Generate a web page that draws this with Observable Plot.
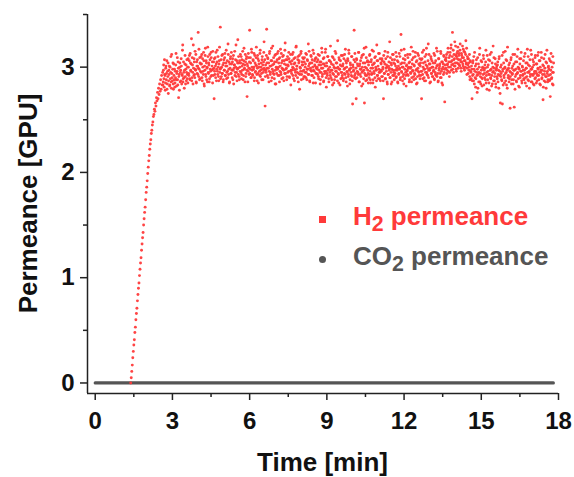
<!DOCTYPE html>
<html>
<head>
<meta charset="utf-8">
<script src="https://cdn.jsdelivr.net/npm/d3@7"></script>
<script src="https://cdn.jsdelivr.net/npm/@observablehq/plot@0.6"></script>
<style>
  html, body { margin: 0; padding: 0; background: #fff; }
  #wrap { position: relative; width: 574px; height: 477px; font-family: "Liberation Sans", Arial, sans-serif; }
  .lg-text { position: absolute; font-weight: bold; font-size: 26px; line-height: 26px; white-space: nowrap; }
  .lg-text sub { font-size: 0.82em; position: relative; top: 0.3em; vertical-align: baseline; line-height: 0; }
  .lg-mark { position: absolute; width: 7px; height: 7px; }
</style>
</head>
<body>
<div id="wrap"></div>
<script>
// ---- data ----
const riseStart = 1.38;     // min, first logged H2 point
const riseStep = 0.02;      // min
const plateauStart = 2.62;  // min
const plateauStep = 0.01;   // min (two interleaved read-outs, A and B)

const h2Rise = [
  0.00, 0.05, 0.11, 0.17, 0.24, 0.30, 0.36, 0.41, 0.48, 0.53, 0.60, 0.66, 0.71, 0.78, 0.84, 0.90,
  0.95, 1.02, 1.08, 1.14, 1.19, 1.26, 1.32, 1.38, 1.43, 1.50, 1.56, 1.62, 1.67, 1.74, 1.81, 1.86,
  1.92, 1.99, 2.05, 2.11, 2.16, 2.22, 2.27, 2.31, 2.37, 2.40, 2.45, 2.48, 2.53, 2.55, 2.60, 2.58,
  2.66, 2.63, 2.71, 2.68, 2.76, 2.70, 2.80, 2.74, 2.84, 2.77, 2.88, 2.79, 2.92, 2.83
];

const h2PlateauA = [
  2.95, 2.86, 3.02, 2.81, 2.93, 2.78, 2.99, 2.88, 3.06, 2.84, 2.91, 2.75, 2.97, 3.01, 2.83, 2.89, 3.10, 2.80, 2.94, 2.87, 3.04, 2.79, 2.92, 2.98, 2.85,
  2.90, 3.13, 2.82, 2.96, 2.88, 3.05, 2.71, 2.93, 3.00, 2.86, 2.97, 3.08, 2.84, 2.92, 3.21, 2.89, 2.95, 2.80, 3.03, 2.91, 2.98, 2.87, 3.07, 2.93, 2.85,
  3.00, 2.92, 3.11, 2.88, 3.04, 2.96, 3.27, 2.90, 3.02, 2.84, 2.99, 3.08, 2.93, 3.15, 2.97, 2.86, 3.05, 2.94, 3.01, 3.33, 2.91, 2.98, 3.09, 2.89, 3.03,
  2.95, 3.12, 2.87, 3.00, 2.93, 3.06, 2.82, 2.97, 3.18, 2.91, 3.04, 2.99, 2.86, 3.10, 2.94, 3.02, 2.89, 3.07, 2.96, 3.14, 2.92, 3.01, 2.85, 2.98, 3.05,
  2.70, 2.96, 3.09, 2.90, 3.03, 2.98, 3.16, 2.93, 3.00, 2.87, 3.06, 2.95, 3.38, 2.99, 2.91, 3.11, 2.94, 3.02, 2.88, 3.07, 2.97, 3.13, 2.92, 3.04, 2.89,
  3.01, 2.96, 3.22, 2.93, 3.05, 2.86, 2.99, 3.10, 2.94, 3.03, 2.90, 3.08, 2.97, 2.84, 3.02, 3.15, 2.95, 3.00, 2.91, 3.06, 2.98, 3.26, 2.93, 3.04, 2.88,
  3.00, 3.12, 2.95, 2.89, 3.07, 2.97, 3.03, 2.92, 3.18, 2.99, 2.86, 3.05, 2.94, 3.10, 2.72, 3.01, 2.96, 3.09, 2.93, 3.35, 2.98, 3.04, 2.90, 3.14, 2.97,
  2.92, 3.06, 3.00, 2.87, 3.11, 2.95, 3.02, 3.19, 2.93, 2.99, 3.08, 2.85, 3.03, 2.96, 3.13, 2.91, 3.00, 2.94, 3.07, 2.98, 2.88, 3.05, 3.24, 2.97, 2.63,
  3.02, 2.95, 3.36, 2.99, 3.09, 2.90, 3.04, 2.96, 3.15, 2.93, 3.01, 2.87, 3.06, 2.98, 3.20, 2.94, 3.03, 2.89, 3.11, 2.97, 2.84, 3.05, 2.99, 3.13, 2.92,
  3.00, 3.08, 2.86, 2.96, 3.17, 2.93, 3.04, 2.99, 3.10, 2.90, 2.97, 3.06, 2.94, 3.23, 2.98, 3.02, 2.88, 3.07, 2.95, 3.01, 3.14, 2.91, 3.05, 2.96, 2.83,
  3.03, 2.97, 3.12, 2.92, 2.99, 3.08, 2.87, 3.04, 2.95, 3.19, 2.98, 3.01, 2.90, 3.10, 2.94, 3.06, 2.79, 3.00, 2.96, 3.15, 2.93, 3.02, 3.09, 2.89, 2.97,
  3.05, 2.91, 3.00, 3.13, 2.95, 2.88, 3.07, 2.98, 3.22, 2.93, 3.03, 2.86, 2.99, 3.11, 2.96, 3.04, 2.92, 3.16, 2.97, 2.90, 3.06, 3.01, 2.85, 3.09, 2.94,
  3.00, 2.93, 3.12, 2.89, 2.97, 3.05, 2.84, 3.02, 2.95, 3.18, 2.91, 2.99, 3.08, 2.87, 3.03, 2.94, 3.14, 2.96, 2.81, 3.01, 2.92, 3.10, 2.98, 2.86, 3.06,
  2.95, 3.20, 2.90, 3.03, 2.97, 2.83, 3.09, 2.93, 3.00, 2.88, 3.15, 2.96, 3.04, 2.91, 2.99, 3.25, 2.94, 2.85, 3.07, 2.98, 3.02, 2.89, 3.11, 2.95, 2.92,
  3.01, 2.87, 3.08, 2.94, 2.99, 3.17, 2.90, 3.04, 2.96, 2.82, 3.06, 2.93, 3.13, 2.98, 2.88, 3.02, 2.95, 3.10, 2.91, 2.65, 3.00, 2.97, 3.35, 2.92, 3.05,
  2.89, 2.70, 3.07, 2.96, 3.01, 2.93, 3.14, 2.86, 3.03, 2.98, 2.91, 3.09, 2.95, 3.00, 2.84, 3.12, 2.97, 2.66, 3.04, 2.92, 3.19, 2.99, 2.88, 3.06, 2.94,
  3.02, 2.90, 3.11, 2.96, 2.85, 3.05, 2.93, 3.16, 2.99, 2.88, 3.03, 2.94, 3.09, 2.81, 3.00, 2.97, 3.21, 2.92, 3.06, 2.89, 2.98, 3.13, 2.95, 2.87, 3.04,
  2.96, 3.08, 2.91, 3.00, 2.70, 3.05, 2.94, 3.15, 2.89, 2.99, 3.02, 2.86, 3.10, 2.93, 3.01, 2.97, 3.24, 2.90, 3.04, 2.84, 2.98, 3.07, 2.92, 3.12, 2.95,
  2.88, 3.03, 2.97, 3.14, 2.91, 2.99, 3.06, 2.85, 3.01, 2.94, 2.98, 3.10, 2.90, 3.31, 2.96, 3.04, 2.87, 3.00, 2.93, 3.17, 2.89, 3.07, 2.95, 2.82, 3.02,
  2.97, 3.12, 2.92, 3.00, 2.86, 3.05, 2.99, 2.94, 3.19, 2.90, 3.03, 2.96, 3.09, 2.88, 3.01, 2.93, 3.14, 2.97, 2.84, 3.06, 2.91, 2.99, 3.11, 2.95, 3.02,
  2.89, 3.04, 2.96, 2.70, 3.08, 2.93, 3.00, 3.16, 2.90, 2.98, 3.05, 2.87, 3.12, 2.95, 3.01, 2.92, 3.22, 2.97, 3.03, 2.85, 2.99, 3.10, 2.94, 3.06, 2.91,
  3.00, 2.96, 3.13, 2.88, 3.04, 2.93, 2.99, 3.18, 2.91, 3.02, 2.86, 3.08, 2.97, 3.01, 2.94, 3.15, 2.90, 3.05, 2.98, 2.83, 3.03, 3.11, 2.95, 2.67, 3.07,
  2.99, 3.09, 2.94, 3.02, 3.14, 2.96, 3.05, 2.91, 3.11, 3.00, 3.18, 2.97, 3.06, 3.33, 3.03, 2.95, 3.12, 3.08, 3.01, 3.20, 2.98, 3.10, 3.04, 3.15, 2.99,
  3.07, 3.13, 3.01, 3.22, 3.05, 2.96, 3.11, 3.09, 3.03, 3.17, 2.99, 3.06, 3.14, 3.00, 3.25, 3.04, 2.93, 3.10, 3.02, 3.08, 2.97, 3.12, 2.88, 3.05, 2.95,
  3.01, 2.70, 2.92, 3.06, 2.87, 2.98, 3.14, 2.90, 2.81, 3.03, 2.95, 2.76, 3.09, 2.93, 2.86, 3.00, 3.18, 2.91, 2.84, 2.97, 3.05, 2.89, 2.99, 3.11, 2.83,
  2.94, 3.02, 2.88, 3.16, 2.92, 2.79, 3.00, 2.96, 3.07, 2.85, 2.93, 3.12, 2.90, 2.98, 2.82, 3.04, 2.95, 3.20, 2.87, 2.99, 2.91, 3.08, 2.84, 2.97, 3.01,
  2.89, 3.05, 2.93, 2.80, 3.10, 2.96, 2.66, 2.91, 3.02, 2.87, 2.65, 2.98, 3.14, 2.92, 2.85, 3.00, 2.94, 3.07, 2.83, 2.97, 3.19, 2.90, 2.99, 2.86, 3.04,
  2.61, 2.95, 3.09, 2.88, 2.93, 3.01, 2.84, 2.97, 2.62, 3.12, 2.91, 2.98, 2.87, 3.05, 2.94, 3.17, 2.89, 2.99, 2.81, 3.03, 2.92, 3.08, 2.96, 2.85, 3.00,
  2.93, 3.06, 2.88, 2.97, 3.13, 2.90, 2.99, 2.82, 3.04, 2.95, 3.10, 2.87, 2.96, 3.01, 2.91, 3.16, 2.86, 2.98, 2.93, 3.07, 2.84, 3.02, 2.94, 2.89, 3.11,
  2.96, 2.85, 3.03, 2.92, 2.99, 3.14, 2.88, 2.95, 3.06, 2.83, 2.97, 3.09, 2.90, 2.93, 2.69, 3.01, 2.87, 2.96, 3.12, 2.91, 2.80, 3.04, 2.94, 2.86, 3.00,
  2.92, 3.08, 2.88, 2.72, 2.97, 3.05, 2.90, 2.84, 3.10, 2.95
];

const h2PlateauB = [
  2.83, 2.97, 2.89, 3.07, 2.92, 2.85, 3.01, 2.94, 2.79, 2.96, 3.04, 2.87, 2.93, 2.82, 3.00, 2.95, 2.86, 3.12, 2.90, 2.98, 2.84, 3.03, 2.88, 2.81, 2.96,
  3.02, 2.88, 2.94, 3.09, 2.83, 2.99, 2.91, 2.78, 3.04, 2.95, 2.87, 3.01, 2.93, 3.16, 2.86, 3.05, 2.90, 2.97, 3.11, 2.84, 3.02, 2.95, 2.89, 3.00, 3.08,
  2.94, 3.06, 2.89, 3.13, 2.97, 3.03, 2.87, 3.09, 2.95, 3.21, 2.92, 3.05, 2.90, 2.98, 3.12, 2.85, 3.01, 3.07, 2.93, 2.99, 3.17, 2.88, 3.04, 2.96, 3.10,
  3.03, 2.90, 3.08, 2.96, 3.14, 2.84, 3.01, 3.11, 2.93, 3.06, 2.88, 3.00, 3.19, 2.95, 3.04, 2.86, 3.12, 2.98, 2.91, 3.09, 2.97, 3.05, 3.15, 2.92, 2.99,
  3.08, 2.93, 3.01, 3.14, 2.87, 3.05, 2.96, 3.10, 2.91, 3.03, 3.19, 2.98, 2.89, 3.07, 3.00, 2.94, 3.12, 2.86, 3.04, 2.97, 3.09, 2.92, 3.01, 3.16, 2.95,
  3.06, 2.90, 3.12, 2.98, 2.85, 3.03, 3.08, 2.94, 3.14, 2.97, 3.05, 2.88, 3.11, 2.99, 3.02, 2.92, 3.07, 3.21, 2.95, 2.87, 3.04, 2.99, 3.10, 2.91, 3.06,
  2.96, 3.04, 3.10, 2.93, 3.01, 3.15, 2.88, 3.06, 2.98, 3.02, 3.12, 2.91, 3.08, 2.97, 3.03, 2.86, 3.13, 2.99, 3.05, 2.94, 3.09, 2.90, 3.17, 3.00, 2.93,
  3.07, 2.98, 3.13, 2.90, 3.04, 2.96, 3.09, 3.01, 2.87, 3.11, 2.94, 3.06, 3.00, 2.92, 3.16, 2.97, 3.04, 2.88, 3.10, 3.02, 2.95, 3.14, 2.99, 3.07, 2.91,
  2.97, 3.11, 3.04, 2.92, 3.08, 2.99, 2.86, 3.13, 3.01, 2.95, 3.06, 3.18, 2.90, 3.02, 2.96, 3.09, 2.93, 3.05, 2.84, 3.12, 3.00, 2.94, 3.07, 2.98, 3.15,
  3.04, 2.92, 3.09, 3.01, 2.95, 3.13, 2.89, 3.06, 2.98, 3.11, 2.87, 3.03, 3.16, 2.94, 3.07, 2.99, 2.91, 3.10, 3.02, 2.96, 3.08, 2.90, 3.05, 3.12, 2.97,
  2.94, 3.06, 3.00, 3.14, 2.89, 3.03, 2.97, 3.09, 2.92, 3.20, 3.01, 2.95, 3.07, 2.86, 3.04, 3.11, 2.93, 2.99, 3.13, 2.88, 3.05, 2.96, 3.02, 3.08, 2.91,
  3.09, 2.95, 3.03, 2.90, 3.12, 2.98, 3.06, 2.93, 3.01, 3.15, 2.87, 3.04, 2.97, 3.10, 2.92, 3.07, 3.00, 2.85, 3.13, 2.96, 3.02, 3.08, 2.94, 2.99, 3.05,
  2.98, 3.07, 2.91, 3.02, 3.11, 2.95, 2.88, 3.05, 2.99, 3.14, 2.93, 3.03, 2.86, 3.09, 2.96, 3.01, 3.17, 2.90, 3.04, 2.94, 3.10, 2.97, 2.89, 3.06, 3.00,
  2.92, 3.05, 2.97, 2.88, 3.10, 2.94, 3.02, 2.85, 3.07, 2.99, 2.91, 3.13, 2.96, 3.04, 2.87, 3.00, 2.93, 3.09, 2.98, 2.83, 3.06, 2.95, 3.01, 2.90, 3.11,
  3.03, 2.89, 2.98, 3.12, 2.93, 3.06, 2.86, 3.00, 2.95, 3.08, 2.91, 3.16, 2.97, 2.84, 3.04, 2.99, 2.92, 3.10, 2.87, 3.02, 2.96, 3.07, 2.90, 3.13, 2.94,
  2.99, 3.08, 2.90, 3.03, 2.95, 3.14, 2.86, 3.01, 2.93, 3.06, 2.98, 2.82, 3.11, 2.96, 3.04, 2.89, 3.18, 2.94, 3.00, 2.87, 3.09, 2.92, 3.05, 2.97, 2.85,
  3.05, 2.93, 3.12, 2.88, 2.99, 3.07, 2.94, 3.02, 2.85, 3.15, 2.96, 3.04, 2.90, 3.10, 2.98, 2.87, 3.06, 2.92, 3.01, 3.13, 2.95, 2.89, 3.08, 2.97, 3.03,
  2.91, 3.06, 2.98, 2.87, 3.11, 2.94, 3.03, 2.89, 3.08, 2.96, 3.00, 2.84, 3.14, 2.93, 3.05, 2.99, 2.90, 3.09, 2.95, 3.02, 2.86, 3.12, 2.97, 3.04, 2.92,
  3.07, 2.94, 3.01, 2.90, 3.10, 2.97, 2.86, 3.05, 2.93, 3.13, 2.99, 2.88, 3.03, 3.16, 2.95, 3.00, 2.91, 3.08, 2.84, 3.04, 2.98, 3.11, 2.92, 3.01, 2.96,
  2.93, 3.09, 2.99, 3.04, 2.88, 3.12, 2.95, 3.00, 2.86, 3.07, 2.97, 3.15, 2.91, 3.02, 2.94, 3.10, 2.89, 3.05, 2.98, 2.85, 3.13, 2.96, 3.03, 2.92, 3.08,
  3.01, 2.92, 3.07, 2.96, 3.14, 2.89, 3.04, 2.98, 2.87, 3.10, 2.95, 3.02, 3.18, 2.93, 2.99, 3.06, 2.90, 3.12, 2.97, 3.03, 2.86, 3.08, 2.94, 3.00, 2.91,
  3.04, 2.97, 2.89, 3.11, 2.95, 3.06, 2.92, 3.01, 3.15, 2.94, 2.87, 3.08, 2.99, 3.03, 2.90, 3.13, 2.96, 2.85, 3.05, 3.00, 2.93, 3.10, 2.98, 3.02, 3.07,
  3.06, 3.12, 2.97, 3.03, 3.18, 3.00, 3.09, 2.95, 3.14, 3.05, 3.21, 3.02, 3.10, 2.98, 3.16, 3.07, 3.01, 3.24, 3.04, 3.11, 2.96, 3.13, 3.08, 3.19, 3.03,
  3.11, 3.02, 3.16, 3.07, 2.99, 3.13, 3.05, 3.20, 3.01, 3.09, 3.15, 2.97, 3.06, 3.12, 3.03, 3.18, 2.99, 3.08, 2.94, 3.04, 3.00, 2.91, 3.06, 2.96, 2.89,
  2.98, 2.87, 3.04, 2.93, 3.10, 2.84, 2.96, 3.01, 2.89, 3.07, 2.92, 2.98, 2.80, 3.03, 2.95, 3.12, 2.86, 2.94, 3.06, 2.90, 2.82, 3.00, 2.93, 3.08, 2.97,
  2.90, 2.99, 3.05, 2.85, 2.95, 3.11, 2.88, 3.02, 2.93, 2.78, 3.06, 2.97, 2.89, 3.14, 2.92, 2.84, 3.00, 2.96, 3.09, 2.87, 2.94, 3.03, 2.81, 2.99, 2.91,
  3.02, 2.86, 2.97, 3.08, 2.92, 2.75, 3.00, 2.94, 2.88, 3.11, 2.96, 2.83, 3.04, 2.90, 2.99, 3.15, 2.87, 2.95, 3.06, 2.80, 2.98, 2.92, 3.02, 2.89, 2.96,
  2.91, 3.07, 2.84, 2.99, 2.94, 3.12, 2.88, 3.03, 2.97, 2.79, 3.05, 2.93, 2.86, 3.10, 2.95, 3.00, 2.82, 2.98, 3.08, 2.90, 2.96, 3.14, 2.87, 3.01, 2.92,
  2.97, 2.89, 3.10, 2.94, 2.85, 3.04, 2.99, 2.91, 3.17, 2.88, 3.02, 2.95, 2.80, 3.07, 2.93, 2.98, 3.12, 2.86, 3.00, 2.92, 3.05, 2.83, 2.96, 3.09, 2.90,
  3.03, 2.94, 2.87, 3.11, 2.98, 2.92, 3.06, 2.84, 3.00, 2.95, 3.14, 2.89, 2.97, 3.02, 2.81, 3.08, 2.93, 2.99, 2.86, 3.05, 2.91, 3.16, 2.96, 2.88, 3.01,
  2.98, 2.87, 3.06, 2.93, 3.13, 2.89, 3.00, 2.95, 2.83, 3.04
];

const co2Time = [0, 17.8];
const co2Permeance = [0, 0];

const xTicks = [0, 3, 6, 9, 12, 15, 18];
const xMinorTicks = [1.5, 4.5, 7.5, 10.5, 13.5, 16.5];
const yTicks = [0, 1, 2, 3];
const yMinorTicks = [0.5, 1.5, 2.5, 3.5];

const xTitle = "Time [min]";
const yTitle = "Permeance [GPU]";
const seriesNames = [["H", "2", " permeance"], ["CO", "2", " permeance"]];
const seriesColors = ["#ff3a3a", "#555555"];

// ---- build tables ----
const h2 = h2Rise.map((v, i) => ({time: riseStart + i * riseStep, value: v}));
h2PlateauA.forEach((v, i) => {
  h2.push({time: plateauStart + 2 * i * plateauStep, value: v});
  if (i < h2PlateauB.length) h2.push({time: plateauStart + (2 * i + 1) * plateauStep, value: h2PlateauB[i]});
});
const co2 = co2Time.map((t, i) => ({time: t, value: co2Permeance[i]}));

const xDomain = [-0.3, 18];
const yDomain = [-0.1, 3.5];
const axisColor = "#222";

const plot = Plot.plot({
  width: 574,
  height: 477,
  marginLeft: 87,
  marginRight: 16,
  marginTop: 14,
  marginBottom: 84,
  x: {domain: xDomain},
  y: {domain: yDomain},
  style: {
    fontFamily: "'Liberation Sans', Arial, sans-serif",
    fontSize: "24px",
    fontWeight: "bold",
    color: "#111",
    background: "white",
    overflow: "visible"
  },
  marks: [
    Plot.lineY(co2, {x: "time", y: "value", stroke: seriesColors[1], strokeWidth: 3.2}),
    Plot.dot(h2, {x: "time", y: "value", r: 1.45, fill: seriesColors[0], stroke: null, fillOpacity: 0.95}),
    Plot.ruleX([xDomain[0]], {stroke: axisColor, strokeWidth: 1.5}),
    Plot.ruleY([yDomain[0]], {stroke: axisColor, strokeWidth: 1.5}),
    Plot.axisX({ticks: xTicks, tickSize: 7, tickPadding: 11, tickFormat: d => String(d), label: null, stroke: axisColor, strokeWidth: 1.5, fill: "#111"}),
    Plot.axisX({ticks: xMinorTicks, tickSize: 4, text: null, label: null, stroke: axisColor, strokeWidth: 1.5}),
    Plot.axisY({ticks: yTicks, tickSize: 7, tickPadding: 6, tickFormat: d => String(d), label: null, stroke: axisColor, strokeWidth: 1.5, fill: "#111"}),
    Plot.axisY({ticks: yMinorTicks, tickSize: 4, text: null, label: null, stroke: axisColor, strokeWidth: 1.5})
  ]
});

const wrap = document.getElementById("wrap");
wrap.appendChild(plot);

// axis titles
const svg = d3.select(plot);
const xs = plot.scale("x"), ys = plot.scale("y");
const cx = (xs.range[0] + xs.range[1]) / 2;
const cy = (ys.range[0] + ys.range[1]) / 2;
svg.append("text")
  .attr("x", cx).attr("y", 471)
  .attr("text-anchor", "middle")
  .attr("font-size", 26).attr("font-weight", "bold").attr("fill", "#111")
  .text(xTitle);
svg.append("text")
  .attr("transform", `translate(37,${cy}) rotate(-90)`)
  .attr("text-anchor", "middle")
  .attr("font-size", 26).attr("font-weight", "bold").attr("fill", "#111")
  .text(yTitle);

// legend (inside the plot area, upper right)
const legendRows = [
  {top: 203, markTop: 215.5, shape: "square"},
  {top: 243, markTop: 255.5, shape: "circle"}
];
legendRows.forEach((row, i) => {
  const m = document.createElement("div");
  m.className = "lg-mark";
  m.style.left = "318.5px";
  m.style.top = row.markTop + "px";
  m.style.background = seriesColors[i];
  if (row.shape === "circle") m.style.borderRadius = "50%";
  wrap.appendChild(m);
  const t = document.createElement("div");
  t.className = "lg-text";
  t.style.left = "353px";
  t.style.top = row.top + "px";
  t.style.color = seriesColors[i];
  const [a, b, c] = seriesNames[i];
  t.innerHTML = `${a}<sub>${b}</sub>${c}`;
  wrap.appendChild(t);
});
</script>
</body>
</html>
